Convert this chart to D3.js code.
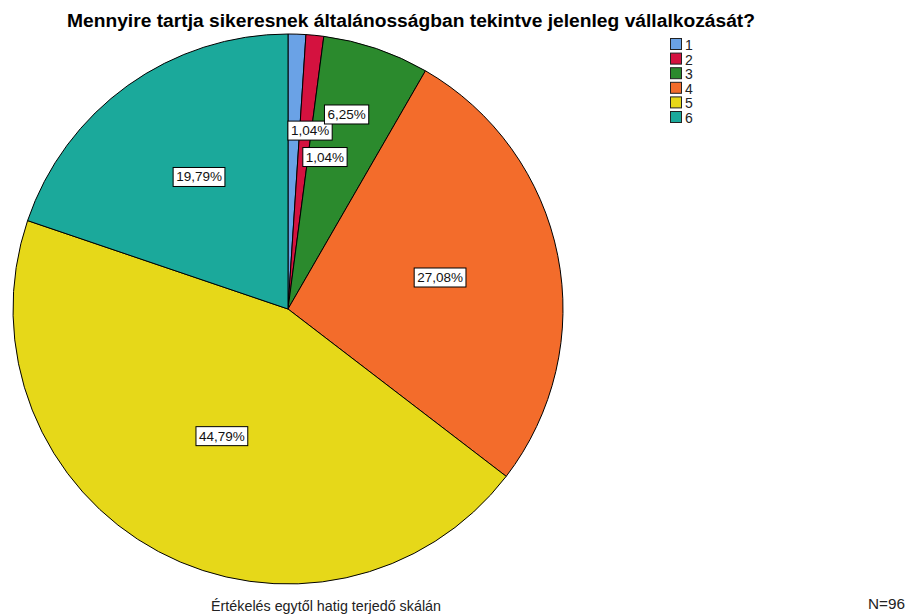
<!DOCTYPE html>
<html><head><meta charset="utf-8">
<script src="https://cdn.jsdelivr.net/npm/d3@7/dist/d3.min.js"></script>
<style>
body{margin:0;background:#fff;}
svg{display:block;}
text{font-family:"Liberation Sans Narrow","Arial Narrow","Liberation Sans",Arial,sans-serif;}
</style></head>
<body>
<script>
const categories = ["1","2","3","4","5","6"];
const percents = [1.04, 1.04, 6.25, 27.08, 44.79, 19.79];
const colors = ["#6aa2e6","#d4123f","#2b8a2d","#f36c2b","#e6d819","#1ba99b"];
const titleText = "Mennyire tartja sikeresnek általánosságban tekintve jelenleg vállalkozását?";
const footText = "Értékelés egytől hatig terjedő skálán";
const nText = "N=96";

const W = 906, H = 616;
const svg = d3.select("body").append("svg").attr("width", W).attr("height", H);

const cx = 288, cy = 309, R = 275;
const data = categories.map((c,i)=>({cat:c, val:percents[i], color:colors[i]}));
const pie = d3.pie().value(d=>d.val).sort(null);
const arcs = pie(data);
const arc = d3.arc().innerRadius(0).outerRadius(R);

const g = svg.append("g").attr("transform", `translate(${cx},${cy})`);
g.selectAll("path").data(arcs).join("path")
  .attr("d", arc).attr("fill", d=>d.data.color)
  .attr("stroke", "#000").attr("stroke-width", 1);

// label layout: radius fraction and angle shift per slice (small slices pushed apart)
const labelR = [0.655, 0.57, 0.74, 0.565, 0.52, 0.58];
const labelShift = [0.09, 0.14, -0.035, -0.01, -0.01, 0.03];
const fmt = v => v.toFixed(2).replace(".", ",") + "%";
arcs.forEach((a,i)=>{
  const ang = (a.startAngle + a.endAngle)/2 + labelShift[i];
  const r = R*labelR[i];
  const x = r*Math.sin(ang), y = -r*Math.cos(ang);
  const lg = g.append("g").attr("transform", `translate(${x},${y})`);
  const t = lg.append("text").attr("text-anchor","middle").attr("dy","0.36em")
    .attr("font-size", 13.5).attr("fill","#111").text(fmt(a.data.val));
  const bb = t.node().getBBox();
  lg.insert("rect","text").attr("x", bb.x-3).attr("y", bb.y-2)
    .attr("width", bb.width+6).attr("height", bb.height+4)
    .attr("fill","#fff").attr("stroke","#000").attr("stroke-width",1);
});

svg.append("text").attr("x", 67).attr("y", 27)
  .attr("font-size", 18).attr("font-weight","bold").attr("fill","#000")
  .attr("textLength", 688).attr("lengthAdjust","spacingAndGlyphs").text(titleText);

svg.append("text").attr("x", 211).attr("y", 611)
  .attr("font-size", 15).attr("fill","#222")
  .attr("textLength", 230).attr("lengthAdjust","spacingAndGlyphs").text(footText);
svg.append("text").attr("x", 868).attr("y", 609)
  .attr("font-size", 14).attr("fill","#222")
  .attr("textLength", 37).attr("lengthAdjust","spacingAndGlyphs").text(nText);

const lg = svg.append("g").attr("transform","translate(670,38)");
categories.forEach((c,i)=>{
  const row = lg.append("g").attr("transform", `translate(0,${i*14.6})`);
  row.append("rect").attr("x",0.5).attr("y",0.5).attr("width",11).attr("height",11)
    .attr("fill", colors[i]).attr("stroke","#222").attr("stroke-width",1);
  row.append("text").attr("x",15).attr("y",12).attr("font-size",14).attr("fill","#222").text(c);
});
</script>
</body></html>
